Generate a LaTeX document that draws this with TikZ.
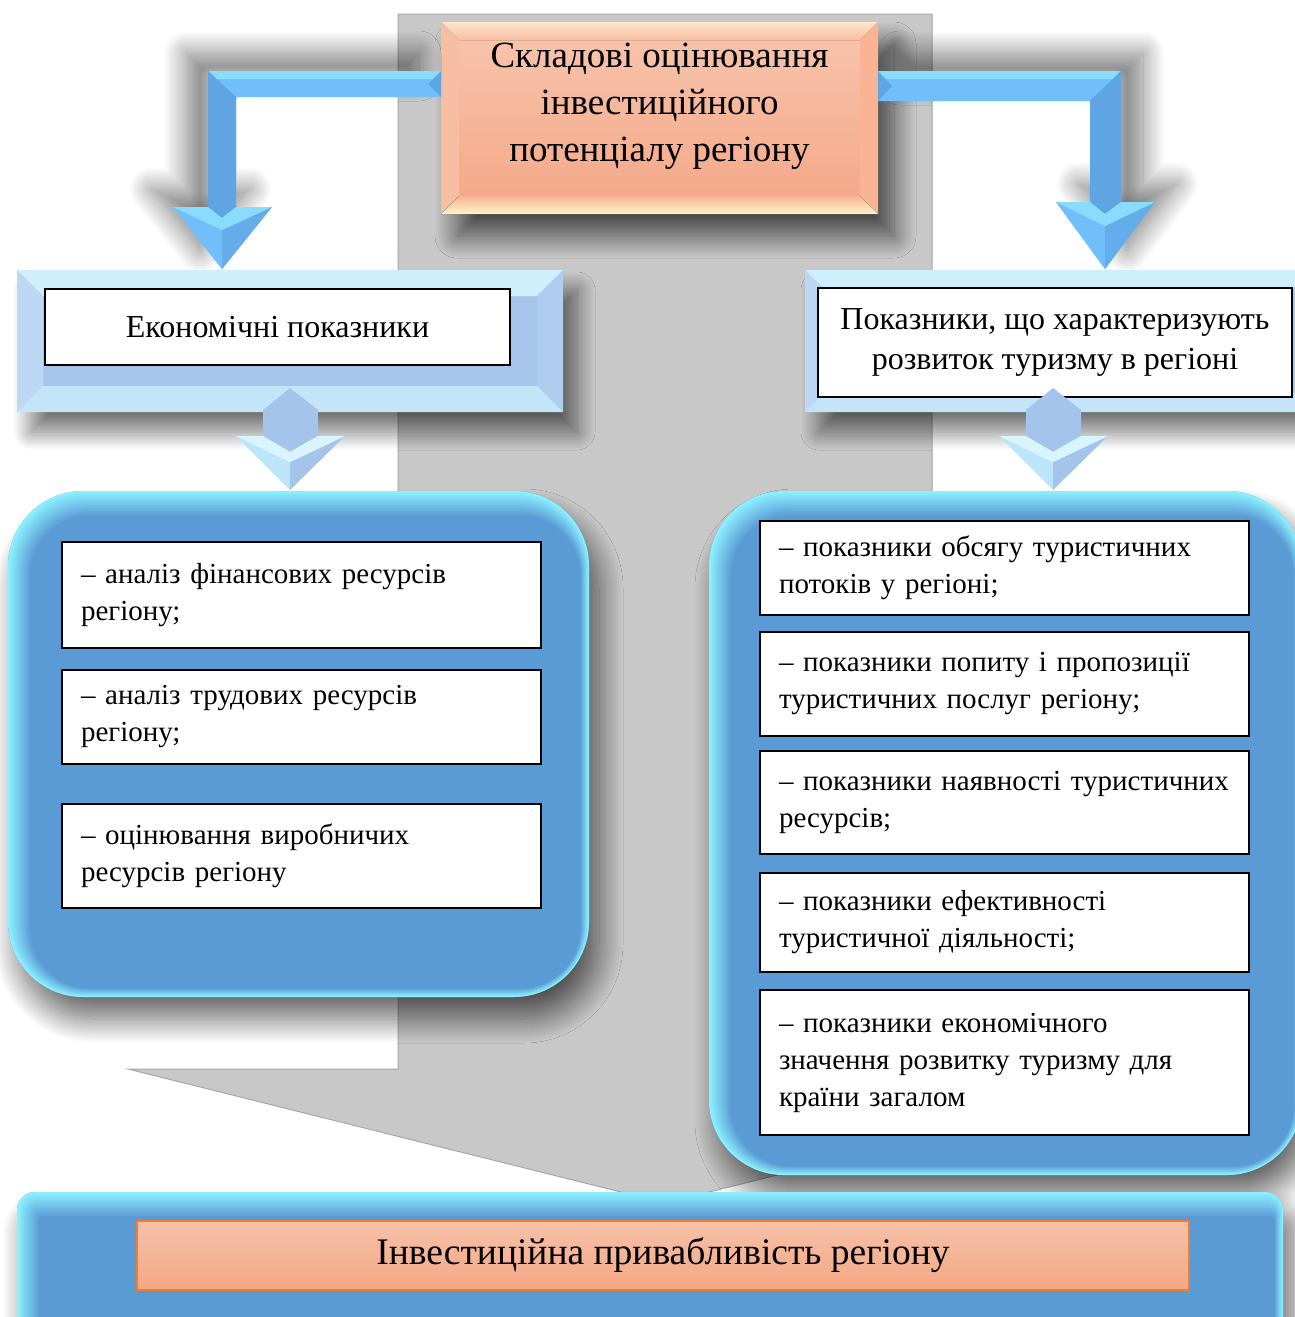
\documentclass[tikz,border=0pt]{standalone}
\usepackage{fontspec}
\setmainfont{Liberation Serif}
\usetikzlibrary{shadows.blur}

\definecolor{grayarr}{HTML}{C8C8C8}
\definecolor{grayline}{HTML}{A8A8A8}
\definecolor{salmid}{HTML}{F6B49B}
\definecolor{salctop}{HTML}{F7C3AA}
\definecolor{salcbot}{HTML}{F5A98A}
\definecolor{saltop}{HTML}{FEE4CB}
\definecolor{salbot}{HTML}{FFF4C8}
\definecolor{salbtop}{HTML}{F7B395}
\definecolor{salleft}{HTML}{F8BEA4}
\definecolor{salright}{HTML}{FAB495}
\definecolor{pnl}{HTML}{5B9BD5}
\definecolor{edge}{HTML}{8CF0FF}
\definecolor{frmid}{HTML}{A7C4EA}
\definecolor{frtop}{HTML}{CFEFFD}
\definecolor{frleft}{HTML}{BDD8F4}
\definecolor{frright}{HTML}{AFCBEE}
\definecolor{frbot}{HTML}{C4E5F9}
\definecolor{arrlt}{HTML}{70BFFB}
\definecolor{arrdk}{HTML}{5FA5E3}
\definecolor{arrhi}{HTML}{8ADCFF}
\definecolor{sarr}{HTML}{A5C4EC}
\definecolor{sarrlt}{HTML}{BDE5FA}
\definecolor{sarrhi}{HTML}{D8F5FF}
\definecolor{restop}{HTML}{F5C1A9}
\definecolor{resbot}{HTML}{F4A784}
\definecolor{resline}{HTML}{ED7D31}

\newcommand\bevel[9]{%
\fill[#6] (#1,#2) -- (#3,#2) -- (#3-#5,#2+#5) -- (#1+#5,#2+#5) -- cycle;
\fill[#7] (#1,#2) -- (#1+#5,#2+#5) -- (#1+#5,#4-#5) -- (#1,#4) -- cycle;
\fill[#8] (#3,#2) -- (#3-#5,#2+#5) -- (#3-#5,#4-#5) -- (#3,#4) -- cycle;
\fill[#9] (#1,#4) -- (#1+#5,#4-#5) -- (#3-#5,#4-#5) -- (#3,#4) -- cycle;}

\newcommand\glowpanel[5]{%
\fill[pnl, rounded corners=#5pt, blur shadow={shadow xshift=10pt, shadow yshift=-22pt, shadow blur radius=24pt, shadow blur steps=25, shadow opacity=60}] (#1,#2) rectangle (#3,#4);
\foreach \i in {0,...,12}{
\pgfmathtruncatemacro\p{\i*100/12}
\pgfmathsetmacro\rr{#5-1.2*\i}
\fill[pnl!\p!edge, rounded corners=\rr pt] (#1+1.8*\i,#2+2*\i) rectangle (#3-0.7*\i,#4-0.7*\i);
}}

\begin{document}
\begin{tikzpicture}[x=1pt,y=-1pt,
  item/.style={draw=black, line width=1.3pt, fill=white, align=left, inner xsep=19pt, inner ysep=0pt, font=\fontsize{29}{37}\selectfont},
  head/.style={draw=black, line width=1.3pt, fill=white, align=center, font=\fontsize{32}{40}\selectfont},
  elshadow/.style={blur shadow={shadow xshift=#1, shadow yshift=18pt, shadow blur radius=22pt, shadow blur steps=25, shadow opacity=50}}]
\useasboundingbox (0,0) rectangle (1295,1317);

\fill[grayarr, draw=grayline, line width=1pt] (398,14) -- (932,14) -- (932,1069) -- (1202,1069) -- (665,1203) -- (128,1069) -- (398,1069) -- cycle;

\fill[salmid, blur shadow={shadow xshift=16pt, shadow yshift=-22pt, shadow blur radius=22pt, shadow blur steps=25, shadow opacity=65}] (441,22) rectangle (878,214);
\fill[top color=salctop, bottom color=salcbot] (459,40) rectangle (860,196);
\bevel{441}{22}{878}{214}{18}{top color=saltop, bottom color=salleft}{salleft}{salright}{top color=salbtop, bottom color=salbot}
\node[align=center, font=\fontsize{37}{47}\selectfont] (ttl) at (659.5,106) {Складові оцінювання\\інвестиційного\\потенціалу регіону};

\fill[arrlt, elshadow=-22pt] (441,71) -- (208,71) -- (208,207) -- (173,207) -- (222,269) -- (272,207) -- (236,207) -- (236,97) -- (441,97) -- cycle;
\fill[arrhi] (441,71) -- (208,71) -- (216,79) -- (441,79) -- cycle;
\fill[arrdk] (208,71) -- (236,97) -- (236,207) -- (222,218) -- (208,207) -- cycle;
\fill[arrdk] (441,71) -- (428,84) -- (441,97) -- cycle;
\fill[arrlt] (173,207) -- (222,230) -- (222,269) -- cycle;
\fill[arrdk!70!arrlt] (272,207) -- (222,230) -- (222,269) -- cycle;
\fill[arrhi] (173,207) -- (208,207) -- (222,218) -- (236,207) -- (272,207) -- (222,230) -- cycle;

\fill[arrlt, elshadow=22pt] (878,71) -- (1121,71) -- (1121,202) -- (1155,202) -- (1105,269) -- (1056,202) -- (1090,202) -- (1090,101) -- (878,101) -- cycle;
\fill[arrhi] (878,71) -- (1121,71) -- (1113,79) -- (878,79) -- cycle;
\fill[arrdk] (1121,71) -- (1090,101) -- (1090,202) -- (1105,214) -- (1121,202) -- cycle;
\fill[arrdk] (878,71) -- (892,86) -- (878,101) -- cycle;
\fill[arrlt] (1056,202) -- (1105,226) -- (1105,269) -- cycle;
\fill[arrdk!70!arrlt] (1155,202) -- (1105,226) -- (1105,269) -- cycle;
\fill[arrhi] (1056,202) -- (1090,202) -- (1105,214) -- (1121,202) -- (1155,202) -- (1105,226) -- cycle;

\foreach \x/\y/\u/\v in {17/270/563/412, 805/270/1312/412}{
\fill[frmid, blur shadow={shadow xshift=14pt, shadow yshift=-20pt, shadow blur radius=18pt, shadow blur steps=25, shadow opacity=55}] (\x,\y) rectangle (\u,\v);
\bevel{\x}{\y}{\u}{\v}{26}{frtop}{frleft}{frright}{frbot}
}
\node[head, minimum width=465pt, minimum height=76pt] (eco) at (277.5,327) {Економічні показники};
\node[head, minimum width=474pt, minimum height=109pt] (tur) at (1055,342.5) {Показники, що характеризують\\розвиток туризму в регіоні};

\foreach \c in {290,1053}{
\fill[sarr] (\c,388) -- (\c+28,410) -- (\c+28,436) -- (\c,452) -- (\c-27,436) -- (\c-27,410) -- cycle;
\fill[sarrlt] (\c-54,436) -- (\c,462) -- (\c,490) -- cycle;
\fill[sarr] (\c+55,436) -- (\c,462) -- (\c,490) -- cycle;
\fill[sarrhi] (\c-54,436) -- (\c-27,436) -- (\c,452) -- (\c+28,436) -- (\c+55,436) -- (\c,462) -- cycle;
}

\glowpanel{8}{491}{589}{997}{75}
\glowpanel{709}{491}{1302}{1175}{75}
\glowpanel{17}{1192}{1283}{1350}{18}

\node[item, text width=441pt, minimum height=106pt] (el1) at (301.5,595) {– аналіз фінансових ресурсів\\регіону;};
\node[item, text width=441pt, minimum height=94pt] (el2) at (301.5,717) {– аналіз трудових ресурсів\\регіону;};
\node[item, text width=441pt, minimum height=104pt] (el3) at (301.5,856) {– оцінювання виробничих\\ресурсів регіону};

\node[item, text width=451pt, minimum height=94pt] (tr1) at (1004.5,568) {– показники обсягу туристичних\\потоків у регіоні;};
\node[item, text width=451pt, minimum height=104pt] (tr2) at (1004.5,684) {– показники попиту і пропозиції\\туристичних послуг регіону;};
\node[item, text width=451pt, minimum height=103pt] (tr3) at (1004.5,802.5) {– показники наявності туристичних\\ресурсів;};
\node[item, text width=451pt, minimum height=99pt] (tr4) at (1004.5,922.5) {– показники ефективності\\туристичної діяльності;};
\node[item, text width=451pt, minimum height=145pt] (tr5) at (1004.5,1062.5) {– показники економічного\\значення розвитку туризму для\\країни загалом};

\node[draw=resline, line width=1.5pt, top color=restop, bottom color=resbot, minimum width=1052pt, minimum height=69pt, font=\fontsize{37.5}{42}\selectfont] (res) at (663,1255.5) {Інвестиційна привабливість регіону};
\end{tikzpicture}
\end{document}
